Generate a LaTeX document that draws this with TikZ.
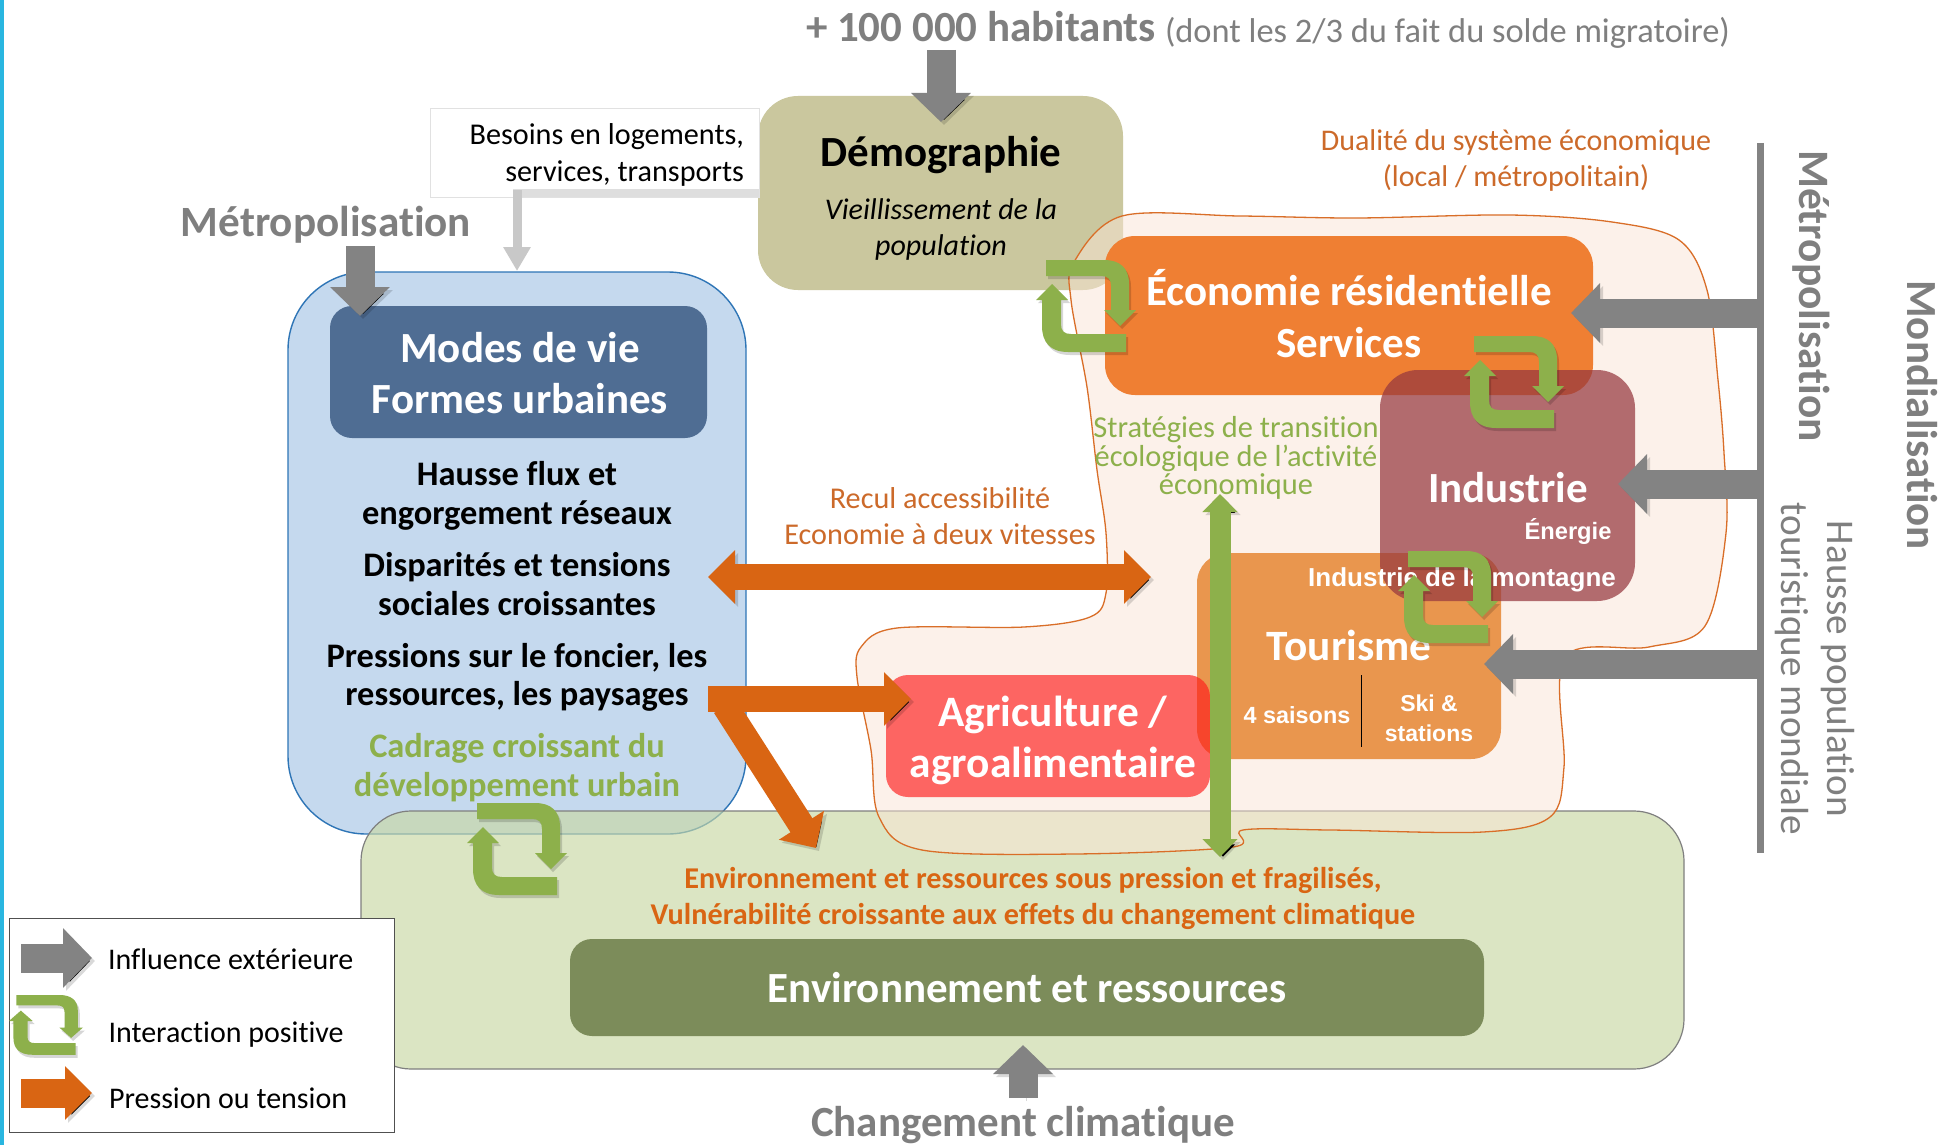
\documentclass[tikz,border=0pt]{standalone}
\usepackage{fontspec}
\setmainfont[Ligatures=NoCommon]{Carlito}
\newfontfamily\arialf{Liberation Sans}
\usetikzlibrary{arrows.meta,shadows}
\newcommand\fsz[2]{\fontsize{#1}{#2}\selectfont}
\definecolor{greyarrow}{HTML}{838383}
\definecolor{greytxt}{HTML}{7F7F7F}
\definecolor{greenc}{HTML}{8DB04B}
\definecolor{orangec}{HTML}{D96513}
\definecolor{orangetxt}{HTML}{CC6A2A}
\tikzset{
  x=1pt,y=-1pt,
  txt/.style={inner sep=0pt,outer sep=0pt,align=center},
  box/.style={rounded corners=#1,draw=none},
  soft/.style={preaction={draw=black,draw opacity=.15,transform canvas={shift={(3pt,-3pt)}}}},
  greyblock/.style={soft,draw=greyarrow,line width=29pt,-{Triangle[length=29pt,width=58pt]}},
  orangeblock/.style={soft,draw=orangec,line width=26pt,-{Triangle[length=27pt,width=52pt]}},
  orangedouble/.style={soft,draw=orangec,line width=26pt,{Triangle[length=27pt,width=52pt]}-{Triangle[length=27pt,width=52pt]}},
  greendouble/.style={soft,draw=greenc,line width=21pt,{Triangle[length=18pt,width=34pt]}-{Triangle[length=18pt,width=34pt]}},
  cycle arrow/.style={fill=greenc,draw=none,drop shadow={shadow xshift=2pt,shadow yshift=-3pt,opacity=.16,fill=black}},
  greencycle/.pic={
    \fill[cycle arrow] (10,0) -- (68,0) .. controls (84,0) and (93,8) .. (93,24) -- (93,50) -- (100,50) -- (84,66) -- (68,50) -- (75,50) -- (75,26) .. controls (75,19) and (72,16) .. (65,16) -- (10,16) -- cycle;
    \fill[cycle arrow] (90,74) -- (90,92) -- (32,92) .. controls (14,92) and (6,82) .. (6,66) -- (6,40) -- (0,40) -- (16,24) -- (32,40) -- (25,40) -- (25,64) .. controls (25,71) and (28,74) .. (35,74) -- cycle;
  }
}
\begin{document}
\begin{tikzpicture}
\useasboundingbox (0,0) rectangle (1944,1145);
\fill[white] (0,0) rectangle (1944,1145);
\fill[fill={rgb,255:red,41;green,182;blue,224}] (0,0) rectangle (4,1145);

% --- main boxes
\draw[box=78pt,fill={rgb,255:red,197;green,217;blue,238},draw={rgb,255:red,46;green,117;blue,182},line width=1.4pt] (288,272) rectangle (746,834);
\fill[box=22pt,fill={rgb,255:red,79;green,109;blue,147}] (330,306) rectangle (707,438);
\draw[box=50pt,fill={rgb,255:red,201;green,216;blue,164},fill opacity=.65,draw=greytxt,line width=1.2pt] (361,811) rectangle (1684,1069);
\fill[box=22pt,fill={rgb,255:red,124;green,140;blue,90}] (570,939) rectangle (1484,1036);
\draw[box=40pt,fill={rgb,255:red,202;green,199;blue,158},draw=none] (758,96) rectangle (1123,290);

% --- pale outline around the economic sectors
\draw[draw={rgb,255:red,217;green,110;blue,40},line width=1.3pt,fill={rgb,255:red,251;green,229;blue,214},fill opacity=.5]
 plot[smooth cycle,tension=.55] coordinates {(1074,262) (1122,216) (1240,216) (1357,218) (1510,215) (1612,222) (1679,240) (1707,290) (1718,380) (1724,453) (1726,533) (1705,626) (1649,647) (1565,657) (1564,767) (1550,817) (1483,832) (1330,830) (1243,830) (1233,847) (1075,854) (922,850) (879,817) (871,750) (857,677) (861,647) (897,628) (1024,627) (1090,617) (1106,593) (1106,533) (1097,470) (1087,387) (1071,300)};

\fill[box=30pt,fill={rgb,255:red,239;green,127;blue,51}] (1105,236) rectangle (1593,395);
\fill[box=30pt,fill={rgb,255:red,233;green,150;blue,78}] (1197,553) rectangle (1501,759);
\fill[box=38pt,fill={rgb,255:red,150;green,56;blue,63},fill opacity=.72] (1380,370) rectangle (1635,601);
\fill[box=22pt,fill={rgb,255:red,255;green,26;blue,26},fill opacity=.65] (886,675) rectangle (1210,797);

% --- top, left and bottom labels
\node[txt,anchor=west,text=greytxt,font=\fsz{43}{50}\bfseries] (titre) at (806,27) {+ 100 000 habitants};
\node[txt,anchor=west,text=greytxt,font=\fsz{34.4}{40}] (titresuite) at (1165,32.5) {(dont les 2/3 du fait du solde migratoire)};
\node[txt,text=greytxt,font=\fsz{43.2}{50}\bfseries] (metroG) at (326,224.5) {Métropolisation};
\node[txt,text=greytxt,font=\fsz{43}{50}\bfseries] (clim) at (1023,1125) {Changement climatique};

% --- Besoins
\node[draw={rgb,255:red,225;green,225;blue,225},fill=white,line width=.7pt,minimum width=329pt,minimum height=89pt,inner sep=0pt] (besoinsbox) at (594.5,152.5) {};
\node[txt,align=right,anchor=east,font=\fsz{30.2}{37}] (besoins) at (744,155) {Besoins en logements,\\services, transports};
\coordinate (besA) at (759,193);
\coordinate (besB) at (513,193);
\coordinate (besC) at (517,190);
\coordinate (besD) at (517,271);
\draw[draw={rgb,255:red,222;green,222;blue,222},line width=8pt] (besA) -- (besB);
\draw[draw={rgb,255:red,200;green,200;blue,200},line width=9pt,-{Triangle[length=24pt,width=26pt]}] (besC) -- (besD);

% --- block texts
\node[txt,font=\fsz{43}{50}\bfseries] (demoT) at (941,155) {Démographie};
\node[txt,font=\fsz{30}{36}\itshape] (demoS) at (941,230) {Vieillissement de la\\population};
\node[txt,text=white,font=\fsz{43}{51}\bfseries] (modes) at (520,373) {Modes de vie\\Formes urbaines};
\node[txt,font=\fsz{34.4}{38.5}\bfseries] (b1) at (517,496) {Hausse flux et\\engorgement réseaux};
\node[txt,font=\fsz{34.4}{39.5}\bfseries] (b2) at (517,584) {Disparités et tensions\\sociales croissantes};
\node[txt,font=\fsz{34.4}{38.5}\bfseries] (b3) at (517,677.5) {Pressions sur le foncier, les\\ressources, les paysages};
\node[txt,text=greenc,font=\fsz{34.4}{39}\bfseries] (b4) at (517,768) {Cadrage croissant du\\développement urbain};
\node[txt,text=orangetxt,font=\fsz{30}{36}] (dual) at (1516,160.5) {Dualité du système économique\\(local / métropolitain)};
\node[txt,text=white,font=\fsz{43}{52}\bfseries] (eco) at (1349,313.5) {Économie résidentielle\\Services};
\node[txt,text=greenc,font=\fsz{30.4}{28.5}] (strat) at (1236,458) {Stratégies de transition\\écologique de l’activité\\économique};
\node[txt,text=orangetxt,font=\fsz{30.2}{36}] (recul) at (940,516) {Recul accessibilité\\Economie à deux vitesses};
\node[txt,text=white,font=\fsz{43}{50}\bfseries] (indus) at (1508,488) {Industrie};
\node[txt,text=white,font=\arialf\fsz{23.7}{28}\bfseries] (energie) at (1568,532) {Énergie};
\node[txt,text=white,font=\arialf\fsz{26}{30}\bfseries] (indmont) at (1462,579.5) {Industrie de la montagne};
\node[txt,text=white,font=\fsz{43.3}{50}\bfseries] (tour) at (1349,645) {Tourisme};
\node[txt,text=white,font=\arialf\fsz{23.4}{28}\bfseries] (saisons) at (1297,715) {4 saisons};
\node[txt,text=white,font=\arialf\fsz{23}{30}\bfseries] (ski) at (1429,718.5) {Ski \&\\stations};
\coordinate (sepA) at (1361,675);
\coordinate (sepB) at (1361,747);
\draw[black,line width=.8pt] (sepA) -- (sepB);
\node[txt,text=white,font=\fsz{43.4}{51}\bfseries] (agri) at (1053,740) {Agriculture /\\agroalimentaire};
\node[txt,text=orangec,font=\fsz{30.2}{36}\bfseries] (envT) at (1033,898.5) {Environnement et ressources sous pression et fragilisés,\\Vulnérabilité croissante aux effets du changement climatique};
\node[txt,text=white,font=\fsz{43}{50}\bfseries] (envB) at (1027,988) {Environnement et ressources};

% --- right side labels
\node[txt,rotate=-90,anchor=base,text=greytxt,font=\fsz{43.4}{50}\bfseries] (metroD) at (1799,296) {Métropolisation};
\node[txt,rotate=-90,anchor=base,text=greytxt,font=\fsz{43}{50}\bfseries] (mondi) at (1907,415) {Mondialisation};
\node[txt,rotate=-90,text=greytxt,font=\fsz{39.2}{46}] (hausse) at (1815,669) {Hausse population\\touristique mondiale};

% --- grey influence arrows
\coordinate (a1s) at (941,50); \coordinate (a1e) at (941,122);
\coordinate (a2s) at (360,246); \coordinate (a2e) at (360,316);
\coordinate (a3s) at (1023,1098); \coordinate (a3e) at (1023,1045);
\coordinate (a4s) at (1760,313); \coordinate (a4e) at (1571,313);
\coordinate (a5s) at (1760,484); \coordinate (a5e) at (1618,484);
\coordinate (a6s) at (1760,664); \coordinate (a6e) at (1484,664);
\coordinate (barT) at (1760.5,143); \coordinate (barB) at (1760.5,853);
\draw[greyblock] (a1s) -- (a1e);
\draw[greyblock] (a2s) -- (a2e);
\draw[greyblock] (a3s) -- (a3e);
\draw[greyblock] (a4s) -- (a4e);
\draw[greyblock] (a5s) -- (a5e);
\draw[greyblock] (a6s) -- (a6e);
\draw[greyarrow,line width=6.5pt] (barT) -- (barB);

% --- orange pressure arrows
\coordinate (p1a) at (708,577); \coordinate (p1b) at (1151,577);
\coordinate (p2a) at (708,699); \coordinate (p2b) at (911,699);
\coordinate (p3a) at (725,706); \coordinate (p3b) at (816,848);
\draw[orangedouble] (p1a) -- (p1b);
\draw[orangeblock] (p3a) -- (p3b);
\draw[orangeblock] (p2a) -- (p2b);

% --- green vertical double arrow
\coordinate (g1) at (1220,494); \coordinate (g2) at (1220,857);
\draw[greendouble] (g1) -- (g2);

% --- interaction cycles
\pic (c1) at (467,803) {greencycle};
\pic (c2) at (1036,260) {greencycle};
\pic (c3) at (1464,336) {greencycle};
\pic (c4) at (1398,551) {greencycle};

% --- legend
\node[draw={rgb,255:red,80;green,80;blue,80},fill=white,line width=1pt,minimum width=385pt,minimum height=214pt,inner sep=0pt] (legend) at (201.5,1025) {};
\coordinate (l1a) at (21,958); \coordinate (l1b) at (92,958);
\coordinate (l3a) at (21,1093); \coordinate (l3b) at (92,1093);
\draw[greyblock] (l1a) -- (l1b);
\draw[orangeblock,line width=29pt] (l3a) -- (l3b);
\pic[xscale=.74,yscale=.65] (c5) at (9,995) {greencycle};
\node[txt,anchor=west,font=\fsz{30}{34}] (lt1) at (108,959) {Influence extérieure};
\node[txt,anchor=west,font=\fsz{30}{34}] (lt2) at (108.5,1035) {Interaction positive};
\node[txt,anchor=west,font=\fsz{30}{34}] (lt3) at (109,1098) {Pression ou tension};
\end{tikzpicture}
\end{document}
